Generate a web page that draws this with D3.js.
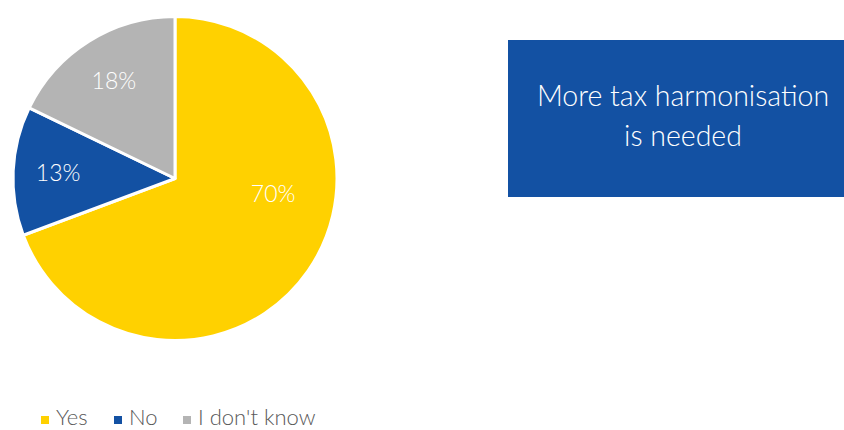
<!DOCTYPE html>
<html><head><meta charset="utf-8">
<script src="https://cdn.jsdelivr.net/npm/d3@7"></script>
<style>body{margin:0;background:#fff;}svg{display:block;}</style>
</head><body>
<svg id="c" width="844" height="430"></svg>
<script>
const categories = ["Yes", "No", "I don't know"];
const values = [70, 13, 18];
const labels = ["70%", "13%", "18%"];
const colors = ["#FFD100", "#1351A3", "#B4B4B4"];
const boxLines = ["More tax harmonisation", "is needed"];

const svg = d3.select("#c");
const cx = 175, cy = 178.5, R = 162;
const pie = d3.pie().sort(null).value(d => d)(values);
const arc = d3.arc().innerRadius(0).outerRadius(R);
const g = svg.append("g").attr("transform", `translate(${cx},${cy})`);
g.selectAll("path").data(pie).join("path")
  .attr("d", arc).attr("fill", (d, i) => colors[i])
  .attr("stroke", "#fff").attr("stroke-width", 3).attr("stroke-linejoin", "round");

// Excel-like best-fit label placement
const labelArc = d3.arc().innerRadius(117).outerRadius(117);
const nudge = [[2, -51], [0, 0], [1, 2]];
g.selectAll("text.lbl").data(pie).join("text").attr("class", "lbl")
  .attr("transform", (d, i) => { const c = labelArc.centroid(d); return `translate(${c[0] + nudge[i][0]},${c[1] + nudge[i][1]})`; })
  .attr("text-anchor", "middle").attr("dy", "0.35em")
  .attr("fill", "#fff").attr("font-family", "Lato").attr("font-weight", 300).attr("font-size", 23)
  .text((d, i) => labels[i]);

// text box
svg.append("rect").attr("x", 508).attr("y", 40).attr("width", 336).attr("height", 157).attr("fill", "#1351A3");
svg.selectAll("text.box").data(boxLines).join("text").attr("class", "box")
  .attr("x", 683).attr("y", (d, i) => 106 + i * 40)
  .attr("text-anchor", "middle").attr("fill", "#fff")
  .attr("font-family", "Lato").attr("font-weight", 300).attr("font-size", 28.5)
  .text(d => d);

// legend
const lx = [41, 114, 183];
const lg = svg.append("g");
categories.forEach((c, i) => {
  lg.append("rect").attr("x", lx[i]).attr("y", 416).attr("width", 8).attr("height", 8).attr("fill", colors[i]);
  lg.append("text").attr("x", lx[i] + 15).attr("y", 425).attr("fill", "#595959")
    .attr("font-family", "Lato").attr("font-weight", 300).attr("font-size", 22).text(c);
});
</script>
</body></html>
